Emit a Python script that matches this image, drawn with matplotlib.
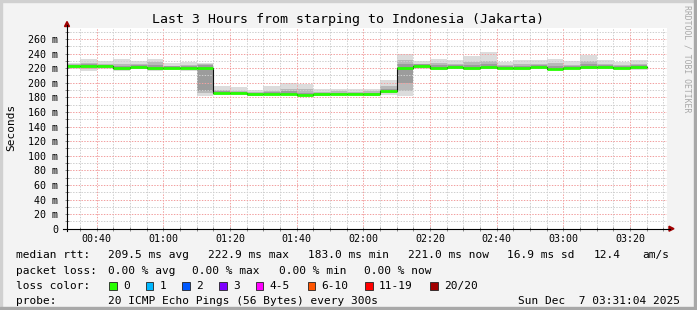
import numpy as np
import matplotlib.pyplot as plt
from matplotlib.patches import Rectangle, Polygon
from matplotlib.lines import Line2D

W, H = 697, 310

# 5 minute steps, first one 00:30-00:35 (graph starts 00:31:04, ends 03:31:04)
step_start = 30  # minutes after midnight
median = [222.7, 222.7, 222.7, 220.5, 221.4, 219.8, 220.7, 220.5, 219.6, 186.2,
          185.6, 183.9, 184.6, 184.0, 182.9, 184.0, 184.8, 183.9, 184.0, 188.5,
          220.5, 222.8, 220.5, 221.4, 220.5, 221.0, 220.5, 220.3, 221.4, 219.1,
          220.3, 221.2, 221.4, 220.5, 221.0]
# outer smoke (all pings)
smoke_hi = [227, 232, 229.5, 232, 230, 232, 227.5, 228.5, 227.5, 195.5,
            194, 190, 195, 200, 198, 191, 192, 191, 192, 204,
            240, 230, 232.5, 231.5, 236, 241.5, 229, 231, 231, 232.5,
            230, 238, 231, 229, 231]
smoke_lo = [219, 216.5, 218.5, 216.5, 219.5, 216.5, 217.5, 216.5, 182, 183,
            183, 183, 183, 183, 182, 183, 183, 183, 182, 183,
            182, 219, 217.5, 218.5, 217.5, 218.5, 218.5, 217.5, 219, 218.5,
            218.5, 219, 219, 219, 217.5]
# middle smoke
core_hi = [225, 227, 226, 226, 225, 228, 223, 224, 225.5, 190,
           189, 187, 189, 192, 191, 187, 188, 187, 188, 196,
           231, 226, 227, 226, 229, 230, 224, 226, 225, 227,
           224, 230, 225, 224, 226]
core_lo = [220, 219, 220, 218, 219.5, 218, 219, 218.5, 186.5, 184,
           184, 182.5, 183, 183, 181.5, 182.5, 184, 183, 182.5, 186,
           189, 220.5, 219, 220, 219, 219.5, 219.5, 219, 220, 218,
           219, 219.5, 220, 219, 218.5]
# densest smoke near the median
dense_hi = [224, 225, 224.5, 223.5, 224, 224, 222.5, 223, 224, 188.5,
            187.5, 185.5, 187, 188, 186, 185.5, 186.5, 185.5, 186, 192,
            226, 225, 224, 224, 224.5, 225, 223, 223.5, 224, 223,
            223, 225, 224, 223, 224]
dense_lo = [221, 221, 221.5, 219, 220.5, 219, 219.5, 219.5, 188, 185,
            184.5, 183, 183.5, 183, 182, 183, 184, 183, 183, 187,
            200, 221.5, 219.5, 220.5, 219.5, 220, 220, 219.5, 220.5, 218.5,
            219.5, 220, 220.5, 219.5, 219.5]

xtick_min = [40, 60, 80, 100, 120, 140, 160, 180, 200]
xtick_labels = ['00:40', '01:00', '01:20', '01:40', '02:00', '02:20', '02:40', '03:00', '03:20']
ytick_vals = list(range(0, 261, 20))
ytick_labels = ['0'] + ['%d m' % v for v in ytick_vals[1:]]

rtt_items = [('median rtt:', 16), ('209.5 ms avg', 107.6), ('222.9 ms max', 207.6),
             ('183.0 ms min', 307.6), ('221.0 ms now', 407.6), ('16.9 ms sd', 506.7),
             ('12.4', 593.3), ('am/s', 642.2)]
loss_items = [('packet loss:', 16), ('0.00 % avg', 107.6), ('0.00 % max', 192),
              ('0.00 % min', 278.7), ('0.00 % now', 364.4)]
loss_labels = ['0', '1', '2', '3', '4-5', '6-10', '11-19', '20/20']
loss_colors = ['#26ff00', '#00b8ff', '#0059ff', '#7e00ff', '#ff00ff', '#ff5500', '#ff0000', '#a10000']
loss_box_x = [109, 145.5, 182, 219, 255.5, 307.5, 365, 430]

plt.rcParams['font.family'] = 'DejaVu Sans Mono'


def fx(x):
    return x / W


def fy(y):
    return 1 - y / H


fig = plt.figure(figsize=(W / 100, H / 100), dpi=100, facecolor='#f3f3f3')
ax = fig.add_axes([fx(67), fy(228.7), 600 / W, (228.7 - 28) / H])
ax.set_facecolor('white')

edges = step_start + 5 * np.arange(len(median) + 1)
for top, bot, col, z in [(smoke_hi, smoke_lo, '#dcdcdc', 1),
                         (core_hi, core_lo, '#b9b9b9', 1.1),
                         (dense_hi, dense_lo, '#9c9c9c', 1.2)]:
    top, bot = np.array(top), np.array(bot)
    ax.bar(edges[:-1], top - bot, bottom=bot, width=5, align='edge', color=col, lw=0, zorder=z)
ax.step(edges, median + [median[-1]], where='post', color='#111111', lw=0.8, zorder=3)
ax.hlines(median, edges[:-1], edges[1:], color='#26ff00', lw=2, zorder=3.1)

ax.set_xlim(31 + 4 / 60, 211 + 4 / 60)
ax.set_ylim(0, 275)
ax.set_xticks(xtick_min)
ax.set_xticklabels(xtick_labels)
ax.set_xticks(np.arange(35, 211, 5), minor=True)
ax.set_yticks(ytick_vals)
ax.set_yticklabels(ytick_labels)
ax.set_yticks(np.arange(10, 275, 10), minor=True)
ax.set_axisbelow(False)
ax.grid(which='minor', color='#cfcfcf', linestyle=(0, (1.4, 1.4)), lw=0.72)
ax.grid(which='major', color='#f2a0a0', linestyle=(0, (1.4, 1.4)), lw=0.72)
ax.tick_params(which='both', labelsize=7.2, direction='inout', length=3, width=0.7, color='#888888')
ax.tick_params(axis='y', pad=5)
ax.tick_params(axis='x', pad=2)
for s in ax.spines.values():
    s.set_visible(False)

# axes with arrows
fig.add_artist(Line2D([fx(67), fx(67)], [fy(231), fy(25)], color='black', lw=0.8))
fig.add_artist(Line2D([fx(63), fx(670)], [fy(228.7), fy(228.7)], color='black', lw=0.8))
fig.add_artist(Polygon([(fx(64.5), fy(26.5)), (fx(69.5), fy(26.5)), (fx(67), fy(21.5))],
                       closed=True, color='#a00000', transform=fig.transFigure))
fig.add_artist(Polygon([(fx(669), fy(226.2)), (fx(669), fy(231.2)), (fx(674), fy(228.7))],
                       closed=True, color='#a00000', transform=fig.transFigure))

fig.text(fx(348), fy(19.5), 'Last 3 Hours from starping to Indonesia (Jakarta)',
         ha='center', va='center', fontsize=9.5)
fig.text(fx(11), fy(127), 'Seconds', rotation=90, ha='center', va='center', fontsize=8)
fig.text(fx(687), fy(5), 'RRDTOOL / TOBI OETIKER', rotation=270, ha='center', va='top',
         fontsize=5.9, color='#a8a8a8')

rows = [255, 270.5, 286, 301.5]
for s, x in rtt_items:
    fig.text(fx(x), fy(rows[0]), s, ha='left', va='center', fontsize=8)
for s, x in loss_items:
    fig.text(fx(x), fy(rows[1]), s, ha='left', va='center', fontsize=8)
fig.text(fx(16), fy(rows[2]), 'loss color:', ha='left', va='center', fontsize=8)
for lab, col, bx in zip(loss_labels, loss_colors, loss_box_x):
    fig.add_artist(Rectangle((fx(bx), fy(rows[2] + 4)), 7.5 / W, 8 / H, facecolor=col,
                             edgecolor='#222222', lw=0.6, transform=fig.transFigure))
    fig.text(fx(bx + 14), fy(rows[2]), lab, ha='left', va='center', fontsize=8)
fig.text(fx(16), fy(rows[3]), 'probe:', ha='left', va='center', fontsize=8)
fig.text(fx(107.6), fy(rows[3]), '20 ICMP Echo Pings (56 Bytes) every 300s',
         ha='left', va='center', fontsize=8)
fig.text(fx(680), fy(rows[3]), 'Sun Dec  7 03:31:04 2025', ha='right', va='center', fontsize=8)

# 3d-ish frame
fig.add_artist(Rectangle((0, 1 - 2 / H), 1, 2 / H, color='#d0d0d0', transform=fig.transFigure))
fig.add_artist(Rectangle((0, 0), 2 / W, 1, color='#d0d0d0', transform=fig.transFigure))
fig.add_artist(Rectangle((1 - 3 / W, 0), 3 / W, 1, color='#a8a8a8', transform=fig.transFigure))
fig.add_artist(Rectangle((0, 0), 1, 3 / H, color='#a8a8a8', transform=fig.transFigure))

fig.savefig('out.png', dpi=100, facecolor=fig.get_facecolor())
